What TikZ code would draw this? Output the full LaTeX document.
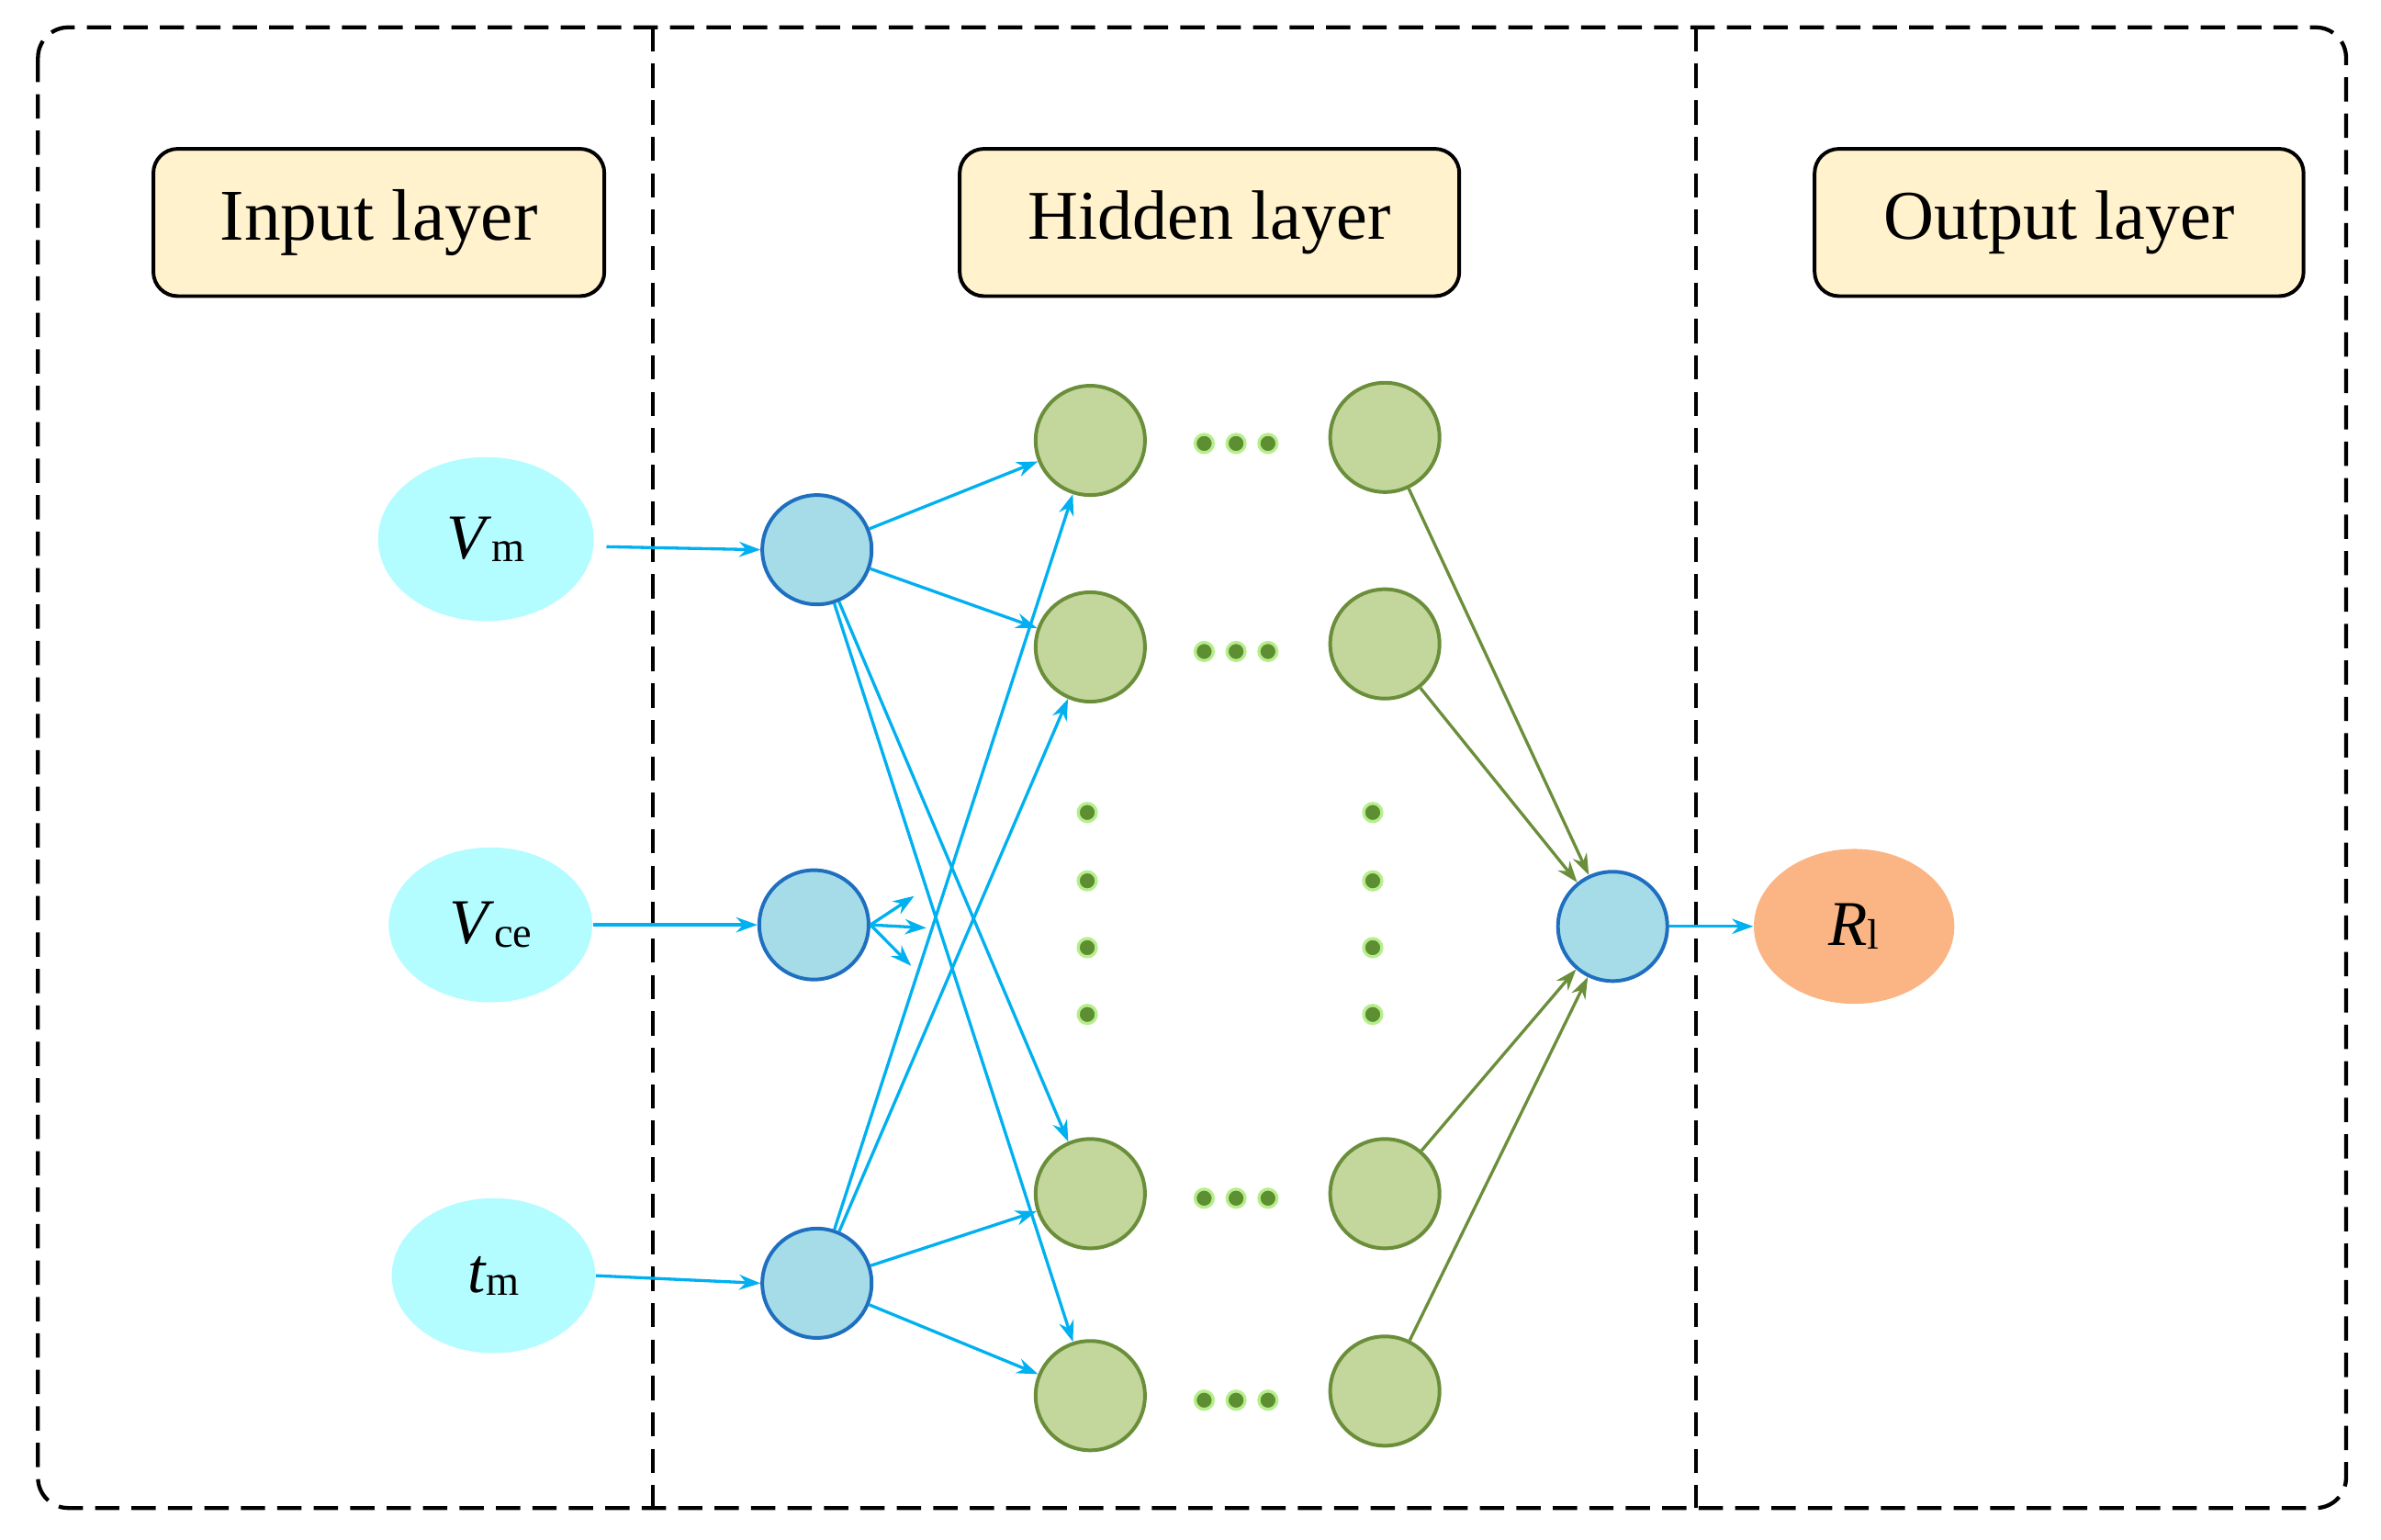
\documentclass[tikz,border=0pt]{standalone}
\usepackage{fontspec}
\setmainfont{Liberation Serif}
\usetikzlibrary{arrows.meta}
\definecolor{hdr}{HTML}{FFF2CC}
\definecolor{inp}{HTML}{B3FCFF}
\definecolor{bfill}{HTML}{A6DCE8}
\definecolor{bdraw}{HTML}{1F6FC0}
\definecolor{gfill}{HTML}{C3D69B}
\definecolor{gdraw}{HTML}{6A8E3A}
\definecolor{arb}{HTML}{00B0F0}
\definecolor{outc}{HTML}{FBB584}
\definecolor{dotc}{HTML}{5E8E32}
\definecolor{dotr}{HTML}{B6EE8C}
\begin{document}
\begin{tikzpicture}[x=0.5pt,y=-0.5pt,
  hdrbox/.style={draw=black,line width=1.2pt,fill=hdr,rounded corners=8pt,minimum width=#1*0.5pt,minimum height=97*0.5pt,font=\fontsize{23}{26}\selectfont},
  inell/.style={ellipse,fill=inp,minimum width=134*0.5pt,minimum height=102*0.5pt,font=\fontsize{21}{24}\selectfont},
  bc/.style={circle,fill=bfill,draw=bdraw,line width=1.2pt,minimum size=72*0.5pt,inner sep=0},
  gc/.style={circle,fill=gfill,draw=gdraw,line width=1.2pt,minimum size=72*0.5pt,inner sep=0},
  dt/.style={circle,fill=dotc,draw=dotr,line width=1pt,minimum size=6pt,inner sep=0},
  ba/.style={draw=arb,line width=1pt,-{Stealth[length=7pt,width=5pt]}},
  ga/.style={draw=gdraw,line width=1pt,-{Stealth[length=7pt,width=5pt]}}]
\useasboundingbox (0,0) rectangle (1568,1014);
\usetikzlibrary{shapes.geometric}
\draw[dashed,line width=1.3pt,dash pattern=on 8pt off 4pt,rounded corners=10pt] (25,18) rectangle (1545,993);
\draw[line width=1.3pt,dash pattern=on 8pt off 4pt] (430,18) -- (430,993);
\draw[line width=1.3pt,dash pattern=on 8pt off 4pt] (1117,18) -- (1117,993);
\node[hdrbox=297] (hin) at (249.5,146.5) {\fontsize{24}{26}\selectfont Input layer};
\node[hdrbox=329] (hhid) at (796.5,146.5) {Hidden layer};
\node[hdrbox=322] (hout) at (1356,146.5) {Output layer};
\node[inell,minimum width=142*0.5pt,minimum height=108*0.5pt] (i1) at (320,355) {\textit{V}\raisebox{-1pt}{\fontsize{14}{16}\selectfont m}};
\node[inell] (i2) at (323,609) {\textit{V}\raisebox{-1pt}{\fontsize{14}{16}\selectfont ce}};
\node[inell] (i3) at (325,840) {\textit{t}\raisebox{-1pt}{\fontsize{14}{16}\selectfont m}};
\node[bc] (h1) at (538,362) {};
\node[bc] (h2) at (536,609) {};
\node[bc] (h3) at (538,845) {};
\foreach \n/\y in {1/290,2/426,3/786,4/919}{\node[gc] (a\n) at (718,\y) {};}
\foreach \n/\y in {1/288,2/424,3/786,4/916}{\node[gc] (b\n) at (912,\y) {};}
\foreach \n/\y in {1/292,2/429,3/789,4/922}{\foreach \x in {793,814,835}{\node[dt] at (\x,\y) {};}}
\foreach \y in {535,580,624,668}{\node[dt] at (716,\y) {}; \node[dt] at (904,\y) {};}
\node[bc] (o) at (1062,610) {};
\node[ellipse,fill=outc,minimum width=132*0.5pt,minimum height=102*0.5pt,font=\fontsize{21}{24}\selectfont] (r) at (1221,610) {\textit{R}\raisebox{-1pt}{\fontsize{14}{16}\selectfont l}};
\draw[ba] (i1.east) ++(8,5) coordinate (s1) -- (h1.west);
\draw[ba] (i2.east) -- (h2.west);
\draw[ba] (i3.east) -- (h3.west);
\foreach \n in {1,2,3,4}{\draw[ba] (h1) -- (a\n); \draw[ba] (h3) -- (a\n);}
\coordinate (s1) at (602,590); \coordinate (s2) at (610,611); \coordinate (s3) at (600,636);
\foreach \s in {s1,s2,s3}{\draw[ba] (h2.east) -- (\s);}
\foreach \n in {1,2,3,4}{\draw[ga] (b\n) -- (o);}
\coordinate (re) at (1150,610);
\draw[ba] (o.east) -- (r.west);
\end{tikzpicture}
\end{document}
